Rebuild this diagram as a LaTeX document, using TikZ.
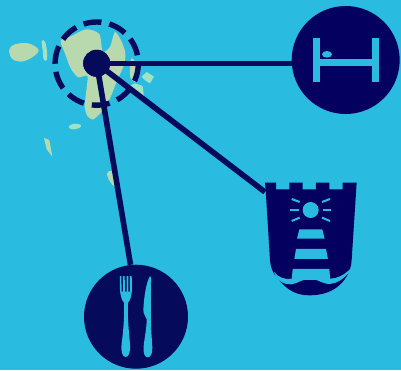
\documentclass[tikz,border=0pt]{standalone}
\definecolor{sea}{HTML}{2ABBE0}
\definecolor{navy}{HTML}{060A5A}
\definecolor{deep}{HTML}{03005F}
\definecolor{land}{HTML}{B8D8AE}
\definecolor{aqua}{HTML}{9FE3C4}
\tikzset{
  link/.style={draw=navy,line width=5.6pt},
  badge/.style={circle,inner sep=0pt,minimum size=#1,fill=deep},
  icon/.style={fill=sea,draw=none},
  zoomA/.style={shift={(0,10)},x=0.3333pt,y=-0.3333pt},
  zoomB/.style={shift={(250,170)},x=0.3333pt,y=-0.3333pt},
  zoomC/.style={shift={(80,260)},x=0.3333pt,y=-0.3333pt},
  zoomD/.style={shift={(285,0)},x=0.3333pt,y=-0.3333pt}
}
\begin{document}
\begin{tikzpicture}[x=1pt,y=-1pt]
\useasboundingbox (0,0) rectangle (401,370);
\fill[sea] (0,0) rectangle (401,370);
% islands
\begin{scope}[zoomA]
\fill[land] plot[smooth cycle,tension=0.45] coordinates {(182,92)(215,78)(258,58)(298,72)(308,125)(330,110)(345,66)(365,95)(376,130)(372,165)(350,215)(330,265)(305,305)(280,328)(262,318)(254,290)(258,250)(262,198)(235,202)(212,175)(195,130)};
\fill[land] plot[smooth cycle,tension=0.6] coordinates {(28,118)(45,103)(85,100)(116,120)(95,143)(62,155)(35,145)};
\fill[aqua] plot[smooth cycle,tension=0.6] coordinates {(125,93)(135,95)(141,125)(140,150)(131,148)(128,120)};
\fill[aqua] plot[smooth cycle,tension=0.6] coordinates {(208,347)(225,341)(243,345)(238,354)(220,358)(209,355)};
\fill[land] (132,384) -- (148,390) -- (157,440) -- (140,418) -- cycle;
\fill[land] plot[smooth cycle,tension=0.6] coordinates {(321,490)(335,483)(350,500)(345,528)(330,515)};
\fill[land] plot[smooth cycle,tension=0.6] coordinates {(395,145)(408,165)(410,215)(392,205)(390,175)};
\fill[aqua] (388,228) -- (405,220) -- (428,228) -- (432,262) -- (410,250) -- cycle;
\fill[aqua] (425,200) -- (440,186) -- (462,200) -- (450,220) -- (437,212) -- cycle;
\end{scope}
% dashed ring
\draw[navy,line width=5.4pt,dash pattern=on 18pt off 8.1pt,dash phase=0pt] (96.7,63.6) circle (41.6);
% nodes
\node[badge=108pt] (hotel) at (345.7,60) {};
\node[badge=104pt,fill=navy] (food) at (136,316.7) {};
\node[circle,fill=navy,inner sep=0pt,minimum size=27pt] (hub) at (96.7,63.3) {};
\coordinate (tower) at (265,192);
% connectors
\draw[link] (hub.center) -- (hub.center -| hotel.west);
\draw[link] (hub.center) -- (tower);
\draw[link] (hub.center) -- (food.96);
\fill[navy] (hub) circle (13.5);
% bed
\begin{scope}[zoomD]
\fill[icon] (84,115) rectangle (105,245);
\fill[icon] (261,115) rectangle (282,245);
\fill[icon] (105,177) rectangle (261,198);
\fill[icon] (126,163) ellipse (15 and 10);
\end{scope}
% fork and knife
\begin{scope}[zoomC]
\fill[icon] (120,48) -- (124,48) -- (125,95) -- (129,95) -- (129,48) -- (134,48) -- (135,95) -- (140,95) -- (140,48) -- (145,48) -- (145,95) -- (150,95) -- (150,48) -- (155,48)
  .. controls (157,85) and (157,115) .. (144,128)
  .. controls (142,160) and (146,215) .. (150,250)
  .. controls (152,275) and (147,291) .. (137,291)
  .. controls (127,291) and (122,275) .. (125,250)
  .. controls (130,215) and (134,160) .. (132,128)
  .. controls (120,115) and (118,85) .. (120,48) -- cycle;
\fill[icon] (210,48)
  .. controls (214,48) and (213,55) .. (213,70)
  -- (213,170)
  .. controls (212,200) and (216,240) .. (217,262)
  .. controls (218,282) and (211,292) .. (203,292)
  .. controls (194,292) and (189,280) .. (191,258)
  .. controls (194,230) and (200,205) .. (200,178)
  .. controls (198,168) and (190,165) .. (190,150)
  .. controls (192,110) and (198,70) .. (210,48) -- cycle;
\end{scope}
% shield
\begin{scope}[zoomB]
\fill[deep] (45,38) -- (78,38) -- (78,58) -- (118,58) -- (118,38) -- (158,38) -- (158,58) -- (198,58) -- (198,38) -- (238,38) -- (238,58) -- (278,58) -- (278,38) -- (320,38)
  -- (305,270) .. controls (303,300) and (290,325) .. (272,342)
  .. controls (250,365) and (215,376) .. (180,376)
  .. controls (145,376) and (120,365) .. (98,342)
  .. controls (75,320) and (62,300) .. (60,270) -- (47,60) -- cycle;
% sun and rays
\fill[icon] (182,120) circle (24);
\draw[sea,line width=2pt] (125,87) -- (149,96);
\draw[sea,line width=2pt] (121,120) -- (146,120);
\draw[sea,line width=2pt] (125,153) -- (149,143);
\draw[sea,line width=2pt] (240,87) -- (216,96);
\draw[sea,line width=2pt] (244,120) -- (219,120);
\draw[sea,line width=2pt] (240,153) -- (216,143);
% lighthouse
\fill[icon] (148,178) -- (217,178) -- (224,206) -- (141,206) -- cycle;
\fill[icon] (138,237) -- (228,237) -- (234,267) -- (133,267) -- cycle;
\fill[icon] (128,297) -- (238,297) -- (241,330) -- (125,330) -- cycle;
% wave
\fill[icon] (72,306) .. controls (85,322) and (105,330) .. (125,326)
  .. controls (145,322) and (158,316) .. (180,316)
  .. controls (202,316) and (215,325) .. (240,326)
  .. controls (262,326) and (282,315) .. (302,296)
  -- (300,304)
  .. controls (282,326) and (262,340) .. (240,342)
  .. controls (215,342) and (202,326) .. (180,326)
  .. controls (158,326) and (145,340) .. (125,343)
  .. controls (105,345) and (88,335) .. (78,322) -- cycle;
\end{scope}
\end{tikzpicture}
\end{document}
